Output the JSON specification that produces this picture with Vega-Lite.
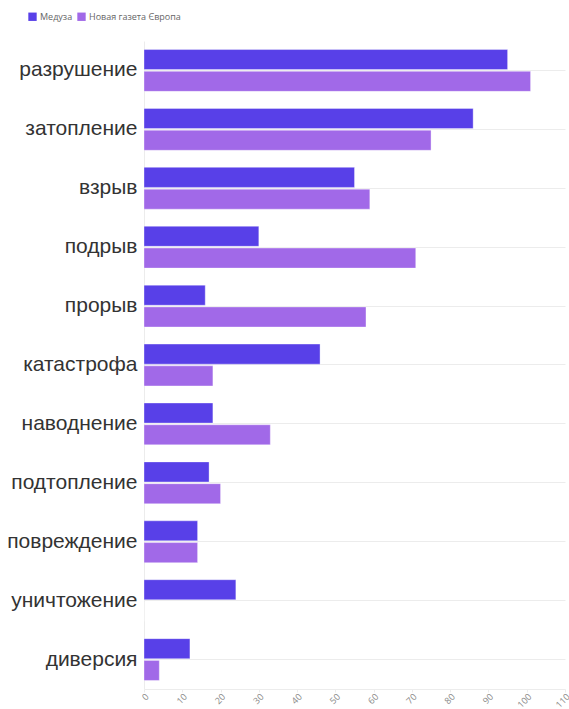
{
  "$schema": "https://vega.github.io/schema/vega-lite/v6.json",
  "autosize": "none",
  "width": 421,
  "height": 648,
  "padding": {"left": 144, "top": 41, "right": 4, "bottom": 20},
  "background": "white",
  "data": {
    "values": [
      {"term": "разрушение", "source": "Медуза", "value": 95},
      {"term": "разрушение", "source": "Новая газета Європа", "value": 101},
      {"term": "затопление", "source": "Медуза", "value": 86},
      {"term": "затопление", "source": "Новая газета Європа", "value": 75},
      {"term": "взрыв", "source": "Медуза", "value": 55},
      {"term": "взрыв", "source": "Новая газета Європа", "value": 59},
      {"term": "подрыв", "source": "Медуза", "value": 30},
      {"term": "подрыв", "source": "Новая газета Європа", "value": 71},
      {"term": "прорыв", "source": "Медуза", "value": 16},
      {"term": "прорыв", "source": "Новая газета Європа", "value": 58},
      {"term": "катастрофа", "source": "Медуза", "value": 46},
      {"term": "катастрофа", "source": "Новая газета Європа", "value": 18},
      {"term": "наводнение", "source": "Медуза", "value": 18},
      {"term": "наводнение", "source": "Новая газета Європа", "value": 33},
      {"term": "подтопление", "source": "Медуза", "value": 17},
      {"term": "подтопление", "source": "Новая газета Європа", "value": 20},
      {"term": "повреждение", "source": "Медуза", "value": 14},
      {"term": "повреждение", "source": "Новая газета Європа", "value": 14},
      {"term": "уничтожение", "source": "Медуза", "value": 24},
      {"term": "уничтожение", "source": "Новая газета Європа", "value": 0},
      {"term": "диверсия", "source": "Медуза", "value": 12},
      {"term": "диверсия", "source": "Новая газета Європа", "value": 4}
    ]
  },
  "mark": {"type": "bar", "stroke": "#ffffff", "strokeOpacity": 0.35, "strokeWidth": 1},
  "encoding": {
    "y": {
      "field": "term",
      "type": "nominal",
      "sort": null,
      "title": null,
      "scale": {"paddingInner": 0.29, "paddingOuter": 0.145},
      "axis": {
        "bandPosition": 0.5,
        "grid": true,
        "gridColor": "#ececec",
        "gridWidth": 1,
        "ticks": false,
        "domain": true,
        "domainColor": "#ececec",
        "labelFont": "Liberation Sans",
        "labelFontSize": 21,
        "labelColor": "#333333",
        "labelPadding": 7,
        "labelLimit": 200
      }
    },
    "yOffset": {
      "field": "source",
      "type": "nominal",
      "scale": {"paddingInner": 0.08}
    },
    "x": {
      "field": "value",
      "type": "quantitative",
      "title": null,
      "scale": {"domain": [0, 110], "nice": false},
      "axis": {
        "values": [0, 10, 20, 30, 40, 50, 60, 70, 80, 90, 100, 110],
        "grid": false,
        "domainColor": "#ececec",
        "tickColor": "#ececec",
        "tickSize": 3,
        "labelAngle": -45,
        "labelFont": "Open Sans",
        "labelFontSize": 9,
        "labelColor": "#888888",
        "labelPadding": 0
      }
    },
    "color": {
      "field": "source",
      "type": "nominal",
      "title": null,
      "scale": {"domain": ["Медуза", "Новая газета Європа"], "range": ["#5840e8", "#a169e8"]},
      "legend": {
        "orient": "none",
        "legendX": -116,
        "legendY": -29,
        "direction": "horizontal",
        "symbolType": "square",
        "symbolSize": 70,
        "symbolStrokeWidth": 0,
        "labelFont": "Open Sans",
        "labelFontSize": 9,
        "labelColor": "#666666",
        "columnPadding": 4,
        "symbolOffset": 0,
        "labelOffset": 3
      }
    }
  },
  "config": {"view": {"stroke": null}}
}
